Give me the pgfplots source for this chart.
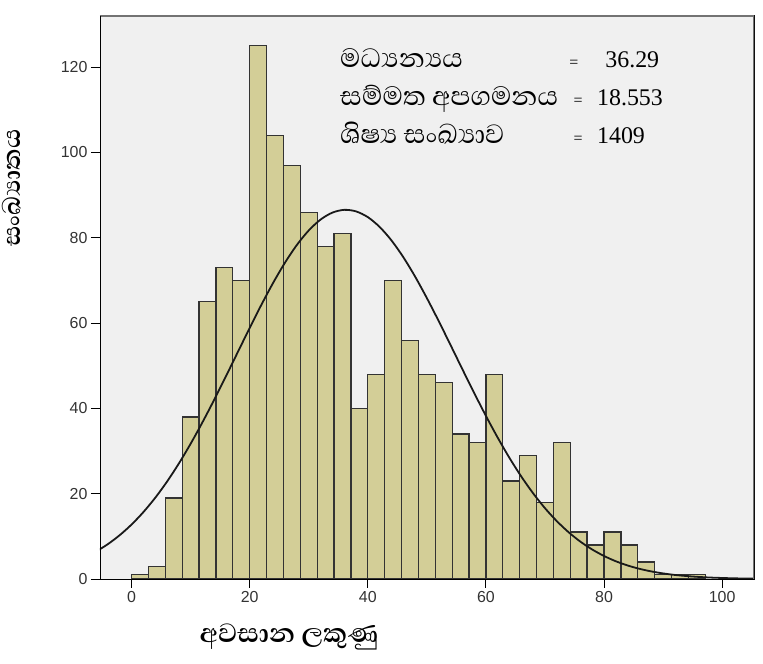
\documentclass[border=0pt]{standalone}
\usepackage{fontspec}
\usepackage{pgfplots}
\pgfplotsset{compat=1.18}
\newfontfamily\sinhala[Script=Sinhala]{Abhaya Libre}
\newfontfamily\arialfont{Liberation Sans}
\newfontfamily\timesfont{Liberation Serif}
\definecolor{barcol}{HTML}{D3CE97}
\definecolor{bgcol}{HTML}{F0F0F0}
\begin{document}
\begin{tikzpicture}
\useasboundingbox (-100bp,-85bp) rectangle (663bp,579bp);
\begin{axis}[
  scale only axis,
  width=654bp, height=563bp,
  xmin=-5.35, xmax=105.4, ymin=0, ymax=132,
  axis background/.style={fill=bgcol},
  axis line style={black, line width=1pt},
  xtick={0,20,...,100}, ytick={0,20,...,120},
  tick align=outside, major tick length=9bp,
  tick style={black, line width=0.9pt},
  xtick pos=bottom, ytick pos=left,
  /pgf/number format/assume math mode=true,
  ticklabel style={font=\arialfont\fontsize{16}{16}\selectfont, text=black!80},
  xlabel={\sinhala\bfseries\fontsize{34}{34}\selectfont අවසාන ලකුණු},
  ylabel={\sinhala\bfseries\fontsize{32}{32}\selectfont සංඛ්^^^^200dයාතය},
  x label style={at={(axis description cs:0.289,-0.103)}, anchor=center},
  y label style={at={(axis description cs:-0.135,0.694)}, anchor=center, rotate=0},
  clip=true,
]
\addplot[ybar interval, fill=barcol, draw=black!80, line width=1.3pt] coordinates {
(0,1) (2.857,3) (5.714,19) (8.571,38) (11.429,65) (14.286,73) (17.143,70)
(20,125) (22.857,104) (25.714,97) (28.571,86) (31.429,78) (34.286,81) (37.143,40)
(40,48) (42.857,70) (45.714,56) (48.571,48) (51.429,46) (54.286,34) (57.143,32)
(60,48) (62.857,23) (65.714,29) (68.571,18) (71.429,32) (74.286,11) (77.143,8)
(80,11) (82.857,8) (85.714,4) (88.571,1) (91.429,1) (94.286,1) (97.143,0)
};
\addplot[black!90, line width=1.8pt, smooth] coordinates {
(-6,6.44) (-4,8.19) (-2,10.29) (0,12.78) (2,15.69) (4,19.04) (6,22.83) (8,27.07)
(10,31.72) (12,36.74) (14,42.06) (16,47.60) (18,53.24) (20,58.87) (22,64.35)
(24,69.51) (26,74.22) (28,78.34) (30,81.72) (32,84.27) (34,85.90) (36,86.55)
(38,86.19) (40,84.85) (42,82.55) (44,79.40) (46,75.48) (48,70.93) (50,65.87)
(52,60.49) (54,54.89) (56,49.23) (58,43.65) (60,38.25) (62,33.14) (64,28.37)
(66,24.01) (68,20.09) (70,16.61) (72,13.58) (74,10.97) (76,8.76) (78,6.92)
(80,5.40) (82,4.16) (84,3.17) (86,2.39) (88,1.78) (90,1.31) (92,0.95) (94,0.69)
(96,0.49) (98,0.34) (100,0.24) (102,0.16) (104,0.11) (106,0.07)
};
\draw[black!55, line width=1.2pt] (rel axis cs:0,1) -- (rel axis cs:1,1) -- (rel axis cs:1,0);
\draw[black, line width=1pt] (rel axis cs:0,0) -- (rel axis cs:0,1);
\draw[black, line width=1pt] (rel axis cs:0,0) -- (rel axis cs:1,0);
\node[anchor=base west, inner sep=0pt, font=\sinhala\fontsize{34}{34}\selectfont] at (axis cs:35.3,119.9) {මධ්^^^^200dයන්^^^^200dයය};
\node[anchor=base west, inner sep=0pt, font=\sinhala\fontsize{34}{34}\selectfont] at (axis cs:35.3,111.1) {සම්මත අපගමනය};
\node[anchor=base west, inner sep=0pt, font=\sinhala\fontsize{34}{34}\selectfont] at (axis cs:35.3,102.1) {ශිෂ්^^^^200dය සංඛ්^^^^200dයාව};
\node[anchor=base, inner sep=0pt, font=\timesfont\fontsize{16}{16}\selectfont] at (axis cs:74.9,119.9) {=};
\node[anchor=base, inner sep=0pt, font=\timesfont\fontsize{16}{16}\selectfont] at (axis cs:75.6,111.1) {=};
\node[anchor=base, inner sep=0pt, font=\timesfont\fontsize{16}{16}\selectfont] at (axis cs:75.6,102.1) {=};
\node[anchor=base west, inner sep=0pt, font=\timesfont\fontsize{24}{24}\selectfont] at (axis cs:80.2,119.9) {36.29};
\node[anchor=base west, inner sep=0pt, font=\timesfont\fontsize{24}{24}\selectfont] at (axis cs:78.8,111.1) {18.553};
\node[anchor=base west, inner sep=0pt, font=\timesfont\fontsize{24}{24}\selectfont] at (axis cs:78.8,102.1) {1409};
\end{axis}
\end{tikzpicture}
\end{document}
